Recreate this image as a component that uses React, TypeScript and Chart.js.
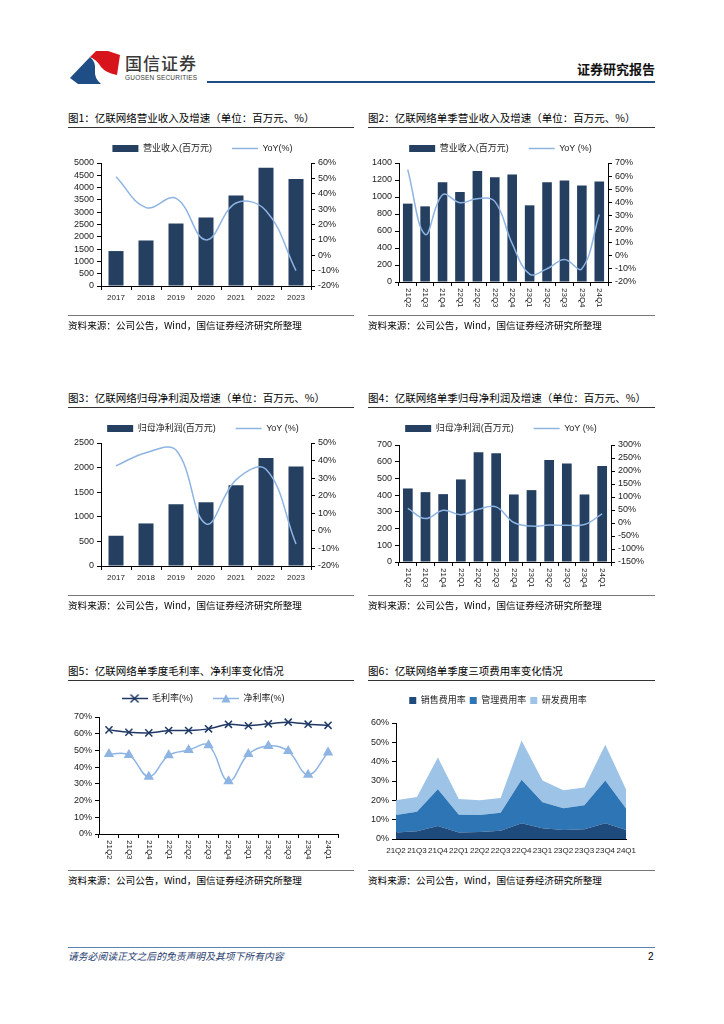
import React, { useEffect, useRef } from 'react';
import { Chart, registerables } from 'chart.js';

Chart.register(...registerables);

const FONT = "'Liberation Sans', 'Noto Sans CJK SC', sans-serif";
const CJK = "'Noto Sans CJK SC', 'Liberation Sans', sans-serif";
const BAR = '#243f60';
const LINE = '#8db4e2';
const TXT = '#222';

// ---------- data ----------
const years = ['2017', '2018', '2019', '2020', '2021', '2022', '2023'];
const quarters = ['21Q2', '21Q3', '21Q4', '22Q1', '22Q2', '22Q3', '22Q4', '23Q1', '23Q2', '23Q3', '23Q4', '24Q1'];

const annualRevenue = [1420, 1850, 2540, 2780, 3680, 4810, 4350];
const annualRevenueYoY = [51, 31, 37, 10, 34, 29, -10];

const quarterRevenue = [922, 890, 1175, 1058, 1307, 1233, 1264, 902, 1175, 1194, 1136, 1182];
const quarterRevenueYoY = [65, 16, 46, 40, 43, 41, 9, -14, -10, -3, -10, 31];

const annualProfit = [615, 865, 1255, 1295, 1640, 2195, 2020];
const annualProfitYoY = [37, 44.5, 46, 4, 29, 35, -7.5];

const quarterProfit = [440, 418, 406, 494, 656, 650, 404, 430, 610, 590, 404, 574];
const quarterProfitYoY = [56, 17, 49, 32, 53, 62, 2, -12, -8, -9, -6, 35];

const grossMargin = [62.3, 60.9, 60.5, 61.9, 61.9, 62.9, 65.6, 64.8, 65.9, 66.9, 65.7, 65.0];
const netMargin = [47.8, 47.3, 34.3, 47.1, 50.2, 53.1, 31.6, 47.8, 52.7, 49.6, 35.4, 48.8];

const salesRate = [3.4, 4.0, 6.7, 3.4, 3.6, 4.3, 8.1, 5.5, 4.7, 5.0, 8.1, 4.7];
const adminRate = [9.0, 10.1, 19.0, 9.2, 8.8, 9.3, 22.6, 13.5, 11.2, 12.4, 22.1, 11.0];
const rndRate = [7.6, 7.6, 16.5, 8.1, 7.6, 7.6, 20.3, 11.2, 9.3, 9.3, 18.6, 9.8];

const revenueTicks = { max: 5000, step: 500 };
const quarterRevenueTicks = { max: 1400, step: 200 };
const profitTicks = { max: 2500, step: 500 };
const quarterProfitTicks = { max: 700, step: 100 };

// ---------- helpers ----------
function yAxis(position: string, min: number, max: number, step: number, pct: boolean, width: number) {
  return {
    type: 'linear',
    position,
    min,
    max,
    ticks: {
      stepSize: step,
      autoSkip: false,
      color: TXT,
      font: { family: FONT, size: 9 },
      padding: 3,
      callback: (v: any) => (pct ? `${v}%` : `${v}`),
    },
    grid: { display: true, drawOnChartArea: false, drawTicks: true, tickLength: 4, color: '#000', lineWidth: 1 },
    border: { display: true, color: '#000', width: 1 },
    afterFit: (s: any) => {
      s.width = width;
    },
  };
}

function gapAxis(h: number) {
  return {
    type: 'linear',
    axis: 'x',
    position: 'top',
    display: true,
    grid: { display: false, drawTicks: false },
    border: { display: false },
    ticks: { display: false },
    afterFit: (s: any) => {
      s.height = h;
    },
  };
}

function rotatedLabelsPlugin(size: number, offset: number) {
  return {
    id: 'rotatedXLabels',
    afterDraw(chart: any) {
      const scale = chart.scales.x;
      const ctx = chart.ctx;
      const labels: string[] = chart.data.labels || [];
      ctx.save();
      ctx.font = `${size}px ${FONT}`;
      ctx.fillStyle = TXT;
      ctx.textAlign = 'left';
      ctx.textBaseline = 'middle';
      labels.forEach((lab, i) => {
        const x = scale.getPixelForValue(i);
        ctx.save();
        ctx.translate(x, scale.top + offset);
        ctx.rotate(Math.PI / 2);
        ctx.fillText(lab, 0, 0);
        ctx.restore();
      });
      ctx.restore();
    },
  };
}

function makeCombo(p: any) {
  const scales: any = {
    x: {
      type: 'category',
      offset: true,
      grid: { display: true, offset: true, drawOnChartArea: false, drawTicks: true, tickLength: 4, color: '#000' },
      border: { display: true, color: '#000' },
      ticks: p.rotated
        ? { display: false }
        : { color: TXT, font: { family: FONT, size: p.xFont }, padding: 3, maxRotation: 0, minRotation: 0, autoSkip: false },
      afterFit: (s: any) => {
        s.height = p.bottomH;
      },
    },
    y: yAxis('left', 0, p.yMax, p.yStep, false, p.leftW),
    y1: yAxis('right', p.y1Min, p.y1Max, p.y1Step, true, p.rightW),
  };
  if (p.gapTop) scales.gap = gapAxis(p.gapTop);
  return {
    type: 'bar',
    data: {
      labels: p.labels,
      datasets: [
        {
          type: 'line',
          label: p.lineLabel,
          data: p.line,
          yAxisID: 'y1',
          borderColor: LINE,
          backgroundColor: LINE,
          borderWidth: 1.5,
          pointRadius: 0,
          tension: 0.4,
          fill: false,
        },
        {
          type: 'bar',
          label: p.barLabel,
          data: p.bars,
          yAxisID: 'y',
          backgroundColor: BAR,
          barPercentage: p.barPct,
          categoryPercentage: 1,
        },
      ],
    },
    options: {
      responsive: false,
      animation: false,
      devicePixelRatio: 1,
      layout: { padding: 0 },
      scales,
      plugins: {
        tooltip: { enabled: false },
        legend: {
          display: true,
          position: 'top',
          labels: {
            usePointStyle: true,
            pointStyleWidth: 26,
            boxHeight: 7,
            padding: p.legendPad,
            color: TXT,
            font: { family: FONT, size: 9 },
            generateLabels: () => [
              { text: p.barLabel, fillStyle: BAR, strokeStyle: BAR, lineWidth: 0, pointStyle: 'rect', hidden: false, datasetIndex: 1, fontColor: TXT },
              { text: p.lineLabel, fillStyle: LINE, strokeStyle: LINE, lineWidth: 1.5, pointStyle: 'line', hidden: false, datasetIndex: 0, fontColor: TXT },
            ],
          },
        },
      },
    },
    plugins: p.rotated ? [rotatedLabelsPlugin(p.xFont, p.rotOffset)] : [],
  };
}

function legendMarker(kind: string, color: string) {
  const c = document.createElement('canvas');
  c.width = 26;
  c.height = 11;
  const g = c.getContext('2d')!;
  g.strokeStyle = color;
  g.fillStyle = color;
  g.lineWidth = 1.5;
  g.beginPath();
  g.moveTo(0, 5.5);
  g.lineTo(26, 5.5);
  g.stroke();
  if (kind === 'cross') {
    g.beginPath();
    g.moveTo(9, 1.5);
    g.lineTo(17, 9.5);
    g.moveTo(17, 1.5);
    g.lineTo(9, 9.5);
    g.stroke();
  } else {
    g.beginPath();
    g.moveTo(13, 1);
    g.lineTo(17.5, 9.5);
    g.lineTo(8.5, 9.5);
    g.closePath();
    g.fill();
  }
  return c;
}

function makeMargins() {
  const GROSS = '#1f3864';
  const NET = '#8eb4e3';
  return {
    type: 'line',
    data: {
      labels: quarters,
      datasets: [
        {
          label: '毛利率(%)',
          data: grossMargin,
          borderColor: GROSS,
          backgroundColor: GROSS,
          borderWidth: 1.5,
          pointStyle: 'crossRot',
          pointRadius: 5,
          pointBorderWidth: 1.5,
          pointBorderColor: GROSS,
          tension: 0.3,
          fill: false,
        },
        {
          label: '净利率(%)',
          data: netMargin,
          borderColor: NET,
          backgroundColor: NET,
          borderWidth: 1.5,
          pointStyle: 'triangle',
          pointRadius: 4.5,
          pointBackgroundColor: NET,
          pointBorderColor: NET,
          tension: 0.4,
          fill: false,
        },
      ],
    },
    options: {
      responsive: false,
      animation: false,
      devicePixelRatio: 1,
      layout: { padding: { right: 17 } },
      scales: {
        x: {
          type: 'category',
          offset: true,
          grid: { display: true, offset: true, drawOnChartArea: false, drawTicks: true, tickLength: 4, color: '#000' },
          border: { display: true, color: '#000' },
          ticks: { display: false },
          afterFit: (s: any) => {
            s.height = 36;
          },
        },
        y: yAxis('left', 0, 70, 10, true, 31),
        gap: gapAxis(4),
      },
      plugins: {
        tooltip: { enabled: false },
        legend: {
          display: true,
          position: 'top',
          labels: {
            usePointStyle: true,
            pointStyleWidth: 26,
            boxHeight: 9,
            padding: 20,
            color: TXT,
            font: { family: FONT, size: 9 },
            generateLabels: () => [
              { text: '毛利率(%)', pointStyle: legendMarker('cross', GROSS), fillStyle: GROSS, strokeStyle: GROSS, lineWidth: 0, hidden: false, datasetIndex: 0, fontColor: TXT },
              { text: '净利率(%)', pointStyle: legendMarker('tri', NET), fillStyle: NET, strokeStyle: NET, lineWidth: 0, hidden: false, datasetIndex: 1, fontColor: TXT },
            ],
          },
        },
      },
    },
    plugins: [rotatedLabelsPlugin(8, 6)],
  };
}

function makeExpenses() {
  const C1 = '#1f4a7c';
  const C2 = '#2e75b6';
  const C3 = '#9dc3e6';
  const ds = (label: string, data: number[], color: string, fill: any) => ({
    label,
    data,
    borderColor: color,
    backgroundColor: color,
    borderWidth: 0,
    pointRadius: 0,
    tension: 0,
    fill,
  });
  const y: any = yAxis('left', 0, 60, 10, true, 28);
  y.stacked = true;
  return {
    type: 'line',
    data: {
      labels: quarters,
      datasets: [ds('销售费用率', salesRate, C1, 'origin'), ds('管理费用率', adminRate, C2, '-1'), ds('研发费用率', rndRate, C3, '-1')],
    },
    options: {
      responsive: false,
      animation: false,
      devicePixelRatio: 1,
      layout: { padding: { right: 15 } },
      scales: {
        x: {
          type: 'category',
          offset: false,
          grid: { display: false, drawTicks: false },
          border: { display: true, color: '#000' },
          ticks: { color: TXT, font: { family: FONT, size: 8 }, padding: 7, maxRotation: 0, minRotation: 0, autoSkip: false },
          afterFit: (s: any) => {
            s.height = 20;
          },
        },
        y,
        gap: gapAxis(8),
      },
      plugins: {
        tooltip: { enabled: false },
        legend: {
          display: true,
          position: 'top',
          labels: {
            boxWidth: 7,
            boxHeight: 7,
            padding: 4,
            color: TXT,
            font: { family: FONT, size: 9 },
          },
        },
      },
    },
  };
}

// ---------- components ----------
function ChartCanvas({ left, top, width, height, make }: any) {
  const ref = useRef<HTMLCanvasElement>(null);
  useEffect(() => {
    const chart = new Chart(ref.current as HTMLCanvasElement, make());
    return () => chart.destroy();
  }, []);
  return (
    <canvas
      ref={ref}
      width={width}
      height={height}
      style={{ position: 'absolute', left, top, width, height }}
    />
  );
}

function Txt({ x, y, size, children, style }: any) {
  return (
    <div
      style={{
        position: 'absolute',
        left: x,
        top: y - Math.round(size * 0.7),
        fontSize: size,
        lineHeight: `${Math.round(size * 1.4)}px`,
        whiteSpace: 'nowrap',
        color: '#000',
        ...style,
      }}
    >
      {children}
    </div>
  );
}

function HLine({ x1, x2, y, color, h = 1 }: any) {
  return <div style={{ position: 'absolute', left: x1, top: y, width: x2 - x1, height: h, background: color }} />;
}

const SOURCE = '资料来源：公司公告，Wind，国信证券经济研究所整理';

export default function App() {
  return (
    <div
      style={{
        position: 'absolute',
        left: 0,
        top: 0,
        width: 724,
        height: 1024,
        overflow: 'hidden',
        background: '#fff',
        fontFamily: CJK,
      }}
    >
      {/* header */}
      <svg style={{ position: 'absolute', left: 68, top: 48 }} width={56} height={38} viewBox="0 0 56 38">
        <path d="M2 30 L22 9 Q28 14 27 22 Q26 30 33 36 L10 36 Z" fill="#1f4e86" />
        <path d="M22 9 L28 3 L40 3 L52 7 L49 27 Q38 25 33 19 Q29 12 22 9 Z" fill="#d7141b" />
      </svg>
      <Txt x={125} y={63} size={17} style={{ color: '#3a3a3a', fontWeight: 500, letterSpacing: 1 }}>
        国信证券
      </Txt>
      <Txt x={125} y={78} size={6.5} style={{ color: '#3a3a3a', fontFamily: FONT, letterSpacing: 0.2 }}>
        GUOSEN SECURITIES
      </Txt>
      <div
        style={{
          position: 'absolute',
          right: 724 - 655,
          top: 60,
          fontSize: 13,
          lineHeight: '18px',
          fontWeight: 700,
          color: '#111',
          whiteSpace: 'nowrap',
        }}
      >
        证券研究报告
      </div>
      <HLine x1={207} x2={655} y={81} color="#1f4e86" h={2} />

      {/* row 1 */}
      <Txt x={68} y={117} size={10.5}>图1：亿联网络营业收入及增速（单位：百万元、%）</Txt>
      <Txt x={368} y={117} size={10.5}>图2：亿联网络单季营业收入及增速（单位：百万元、%）</Txt>
      <HLine x1={68} x2={354} y={127} color="#333" />
      <HLine x1={368} x2={655} y={127} color="#333" />
      <ChartCanvas
        left={50}
        top={124}
        width={305}
        height={184}
        make={() =>
          makeCombo({
            labels: years,
            bars: annualRevenue,
            line: annualRevenueYoY,
            barLabel: '营业收入(百万元)',
            lineLabel: 'YoY(%)',
            yMax: revenueTicks.max,
            yStep: revenueTicks.step,
            y1Min: -20,
            y1Max: 60,
            y1Step: 10,
            barPct: 0.5,
            leftW: 51,
            rightW: 44,
            bottomH: 22,
            gapTop: 0,
            rotated: false,
            xFont: 8,
            legendPad: 20,
          })
        }
      />
      <ChartCanvas
        left={350}
        top={124}
        width={301}
        height={196}
        make={() =>
          makeCombo({
            labels: quarters,
            bars: quarterRevenue,
            line: quarterRevenueYoY,
            barLabel: '营业收入(百万元)',
            lineLabel: 'YoY (%)',
            yMax: quarterRevenueTicks.max,
            yStep: quarterRevenueTicks.step,
            y1Min: -20,
            y1Max: 70,
            y1Step: 10,
            barPct: 0.55,
            leftW: 49,
            rightW: 43,
            bottomH: 38,
            gapTop: 0,
            rotated: true,
            rotOffset: 6,
            xFont: 8,
            legendPad: 20,
          })
        }
      />
      <HLine x1={68} x2={354} y={315} color="#777" />
      <HLine x1={368} x2={655} y={315} color="#777" />
      <Txt x={68} y={326} size={9.6}>{SOURCE}</Txt>
      <Txt x={368} y={326} size={9.6}>{SOURCE}</Txt>

      {/* row 2 */}
      <Txt x={68} y={397} size={10.5}>图3：亿联网络归母净利润及增速（单位：百万元、%）</Txt>
      <Txt x={368} y={397} size={10.5}>图4：亿联网络单季归母净利润及增速（单位：百万元、%）</Txt>
      <HLine x1={68} x2={354} y={407} color="#333" />
      <HLine x1={368} x2={655} y={407} color="#333" />
      <ChartCanvas
        left={50}
        top={404}
        width={306}
        height={184}
        make={() =>
          makeCombo({
            labels: years,
            bars: annualProfit,
            line: annualProfitYoY,
            barLabel: '归母净利润(百万元)',
            lineLabel: 'YoY (%)',
            yMax: profitTicks.max,
            yStep: profitTicks.step,
            y1Min: -20,
            y1Max: 50,
            y1Step: 10,
            barPct: 0.5,
            leftW: 51,
            rightW: 45,
            bottomH: 22,
            gapTop: 0,
            rotated: false,
            xFont: 8,
            legendPad: 20,
          })
        }
      />
      <ChartCanvas
        left={350}
        top={404}
        width={302}
        height={196}
        make={() =>
          makeCombo({
            labels: quarters,
            bars: quarterProfit,
            line: quarterProfitYoY,
            barLabel: '归母净利润(百万元)',
            lineLabel: 'YoY (%)',
            yMax: quarterProfitTicks.max,
            yStep: quarterProfitTicks.step,
            y1Min: -150,
            y1Max: 300,
            y1Step: 50,
            barPct: 0.55,
            leftW: 49,
            rightW: 41,
            bottomH: 38,
            gapTop: 2,
            rotated: true,
            rotOffset: 6,
            xFont: 8,
            legendPad: 20,
          })
        }
      />
      <HLine x1={68} x2={354} y={595} color="#777" />
      <HLine x1={368} x2={655} y={595} color="#777" />
      <Txt x={68} y={606} size={9.6}>{SOURCE}</Txt>
      <Txt x={368} y={606} size={9.6}>{SOURCE}</Txt>

      {/* row 3 */}
      <Txt x={68} y={670} size={10.5}>图5：亿联网络单季度毛利率、净利率变化情况</Txt>
      <Txt x={368} y={670} size={10.5}>图6：亿联网络单季度三项费用率变化情况</Txt>
      <HLine x1={68} x2={354} y={680} color="#333" />
      <HLine x1={368} x2={655} y={680} color="#333" />
      <ChartCanvas left={68} top={674} width={287} height={196} make={makeMargins} />
      <ChartCanvas left={368} top={692} width={275} height={167} make={makeExpenses} />
      <HLine x1={68} x2={354} y={870} color="#777" />
      <HLine x1={368} x2={655} y={870} color="#777" />
      <Txt x={68} y={881} size={9.6}>{SOURCE}</Txt>
      <Txt x={368} y={881} size={9.6}>{SOURCE}</Txt>

      {/* footer */}
      <HLine x1={68} x2={655} y={947} color="#5b82b0" />
      <Txt x={68} y={956} size={9.8} style={{ fontStyle: 'italic', color: '#1f3c6e' }}>
        请务必阅读正文之后的免责声明及其项下所有内容
      </Txt>
      <Txt x={648} y={957} size={10} style={{ fontFamily: FONT }}>
        2
      </Txt>
    </div>
  );
}
